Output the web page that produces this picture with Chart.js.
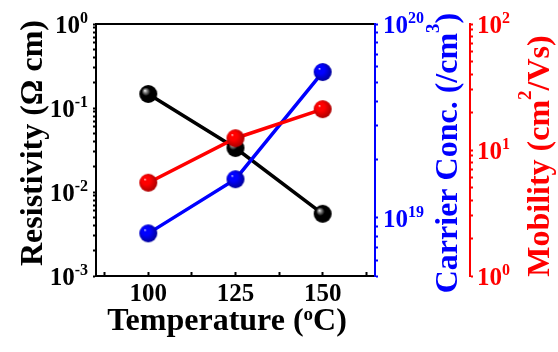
<!DOCTYPE html>
<html><head><meta charset="utf-8">
<script src="https://cdn.jsdelivr.net/npm/chart.js@4.4.1/dist/chart.umd.min.js"></script>
<style>html,body{margin:0;padding:0;background:#fff;overflow:hidden}#wrap{width:558px;height:352px}</style>
</head><body><div id="wrap"><canvas id="c" width="558" height="352"></canvas></div>
<script>
// ---- data ----
const temperatures = [100, 125, 150];
const resistivity = [0.147, 0.0334, 0.0055];        // Ω cm
const carrierConc = [8.3e18, 1.58e19, 5.65e19];     // /cm3
const mobility = [5.5, 12.4, 21.1];                 // cm2/Vs
// ---- tick labels ----
const xTickLabels = ['100', '125', '150'];
const resistivityExps = ['0', '-1', '-2', '-3'];
const carrierExps = ['20', '19'];
const mobilityExps = ['2', '1', '0'];

const FONT = "'Liberation Serif','Times New Roman',serif";
const BLUE = '#0000ff', RED = '#ff0000', BLACK = '#000000';

function sphere(base, dark, r) {
  const c = document.createElement('canvas');
  const s = r * 2 + 2; c.width = s; c.height = s;
  const g = c.getContext('2d');
  const cx = s / 2, cy = s / 2;
  const grad = g.createRadialGradient(cx - r * 0.38, cy - r * 0.38, 0, cx - r * 0.1, cy - r * 0.1, r * 1.05);
  grad.addColorStop(0, '#ffffff');
  grad.addColorStop(0.15, base === BLACK ? '#9a9a9a' : base);
  grad.addColorStop(0.45, base);
  grad.addColorStop(1, dark);
  g.fillStyle = grad; g.beginPath(); g.arc(cx, cy, r, 0, Math.PI * 2); g.fill();
  return c;
}

function logTicks(minExp, maxExp, startMult) {
  const out = [];
  for (let e = minExp; e < maxExp; e++) {
    for (let m = 1; m <= 9; m++) {
      if (e === minExp && m < startMult) continue;
      out.push({ value: m * Math.pow(10, e) });
    }
  }
  out.push({ value: Math.pow(10, maxExp) });
  return out;
}

function drawRich(ctx, segs, x, y, align, rot, color) {
  ctx.save();
  ctx.translate(x, y);
  ctx.rotate(rot);
  ctx.fillStyle = color;
  ctx.textBaseline = 'alphabetic';
  let total = 0;
  segs.forEach(s => { ctx.font = s.font; s.w = ctx.measureText(s.t).width; total += s.w; });
  let cx = align === 'center' ? -total / 2 : (align === 'right' ? -total : 0);
  ctx.textAlign = 'left';
  segs.forEach(s => { ctx.font = s.font; ctx.fillText(s.t, cx, -(s.shift || 0)); cx += s.w; });
  ctx.restore();
}

const TB = 'bold 25px ' + FONT, TS = 'bold 16px ' + FONT;
const HB = 'bold 32px ' + FONT, HS = 'bold 19px ' + FONT;

const richPlugin = {
  id: 'richText',
  afterDraw(chart) {
    const ctx = chart.ctx;
    const sx = chart.scales.x, sy = chart.scales.y, s1 = chart.scales.y1, s2 = chart.scales.y2;
    xTickLabels.forEach(l => {
      drawRich(ctx, [{ t: l, font: TB }], sx.getPixelForValue(Number(l)), 301, 'center', 0, BLACK);
    });
    resistivityExps.forEach(e => {
      const py = sy.getPixelForValue(Math.pow(10, Number(e)));
      drawRich(ctx, [{ t: '10', font: TB }, { t: e, font: TS, shift: 10 }], 88, py + 9, 'right', 0, BLACK);
    });
    carrierExps.forEach(e => {
      const py = s1.getPixelForValue(Math.pow(10, Number(e)));
      drawRich(ctx, [{ t: '10', font: TB }, { t: e, font: TS, shift: 10 }], 383, py + 9, 'left', 0, BLUE);
    });
    mobilityExps.forEach(e => {
      const py = s2.getPixelForValue(Math.pow(10, Number(e)));
      drawRich(ctx, [{ t: '10', font: TB }, { t: e, font: TS, shift: 10 }], 477, py + 9, 'left', 0, RED);
    });
    drawRich(ctx, [{ t: 'Temperature (', font: HB }, { t: 'o', font: HS, shift: 10 }, { t: 'C)', font: HB }], 227, 330, 'center', 0, BLACK);
    drawRich(ctx, [{ t: 'Resistivity (\u03A9 cm)', font: HB }], 42, 143, 'center', -Math.PI / 2, BLACK);
    drawRich(ctx, [{ t: 'Carrier Conc. (/cm', font: HB }, { t: '3', font: HS, shift: 18 }, { t: ')', font: HB }], 457, 153, 'center', -Math.PI / 2, BLUE);
    drawRich(ctx, [{ t: 'Mobility (cm', font: HB }, { t: '2', font: HS, shift: 18 }, { t: '/Vs)', font: HB }], 549, 156, 'center', -Math.PI / 2, RED);
  }
};

new Chart(document.getElementById('c'), {
  type: 'line',
  data: {
    datasets: [
      { label: 'Resistivity', data: temperatures.map((t, i) => ({ x: t, y: resistivity[i] })), yAxisID: 'y',
        borderColor: BLACK, borderWidth: 3.5, pointStyle: sphere(BLACK, '#000000', 9), order: 3 },
      { label: 'Carrier Conc.', data: temperatures.map((t, i) => ({ x: t, y: carrierConc[i] })), yAxisID: 'y1',
        borderColor: BLUE, borderWidth: 3.5, pointStyle: sphere(BLUE, '#0000a0', 9), order: 2 },
      { label: 'Mobility', data: temperatures.map((t, i) => ({ x: t, y: mobility[i] })), yAxisID: 'y2',
        borderColor: RED, borderWidth: 3.5, pointStyle: sphere(RED, '#b00000', 9), order: 1 }
    ]
  },
  options: {
    responsive: false, animation: false, devicePixelRatio: 1,
    layout: { padding: { top: 24, left: 0, right: 0, bottom: 0 } },
    plugins: { legend: { display: false }, tooltip: { enabled: false } },
    elements: { line: { tension: 0 }, point: { radius: 9 } },
    scales: {
      x: {
        type: 'linear', position: 'bottom', min: 85, max: 165,
        afterBuildTicks: s => { s.ticks = [87.5, 100, 112.5, 125, 137.5, 150, 162.5].map(v => ({ value: v })); },
        afterFit: s => { s.height = 76; },
        ticks: { display: false, autoSkip: false },
        grid: { display: true, drawOnChartArea: false, drawTicks: true, tickLength: -4, tickColor: BLACK, tickWidth: 2 },
        border: { display: true, color: BLACK, width: 2 }
      },
      x2: {
        type: 'linear', position: 'top', min: 85, max: 165,
        afterFit: s => { s.height = 0; },
        ticks: { display: false },
        grid: { display: false },
        border: { display: true, color: BLACK, width: 2 }
      },
      y: {
        type: 'logarithmic', position: 'left', min: 1e-3, max: 1,
        afterBuildTicks: s => { s.ticks = logTicks(-3, 0, 1); },
        afterFit: s => { s.width = 96; },
        ticks: { display: false, autoSkip: false },
        grid: { display: true, drawOnChartArea: false, drawTicks: true, tickLength: 3, tickColor: BLACK, tickWidth: 2 },
        border: { display: true, color: BLACK, width: 2 }
      },
      y1: {
        type: 'logarithmic', position: 'right', weight: 0, min: 5e18, max: 1e20,
        afterBuildTicks: s => { s.ticks = logTicks(18, 20, 5); },
        afterFit: s => { s.width = 95; },
        ticks: { display: false, autoSkip: false },
        grid: { display: true, drawOnChartArea: false, drawTicks: true, tickLength: 3, tickColor: BLUE, tickWidth: 2 },
        border: { display: true, color: BLUE, width: 2 }
      },
      y2: {
        type: 'logarithmic', position: 'right', weight: 1, min: 1, max: 100,
        afterBuildTicks: s => { s.ticks = logTicks(0, 2, 1); },
        afterFit: s => { s.width = 88; },
        ticks: { display: false, autoSkip: false },
        grid: { display: true, drawOnChartArea: false, drawTicks: true, tickLength: 3, tickColor: RED, tickWidth: 2 },
        border: { display: true, color: RED, width: 2 }
      }
    }
  },
  plugins: [richPlugin]
});
</script></body></html>
